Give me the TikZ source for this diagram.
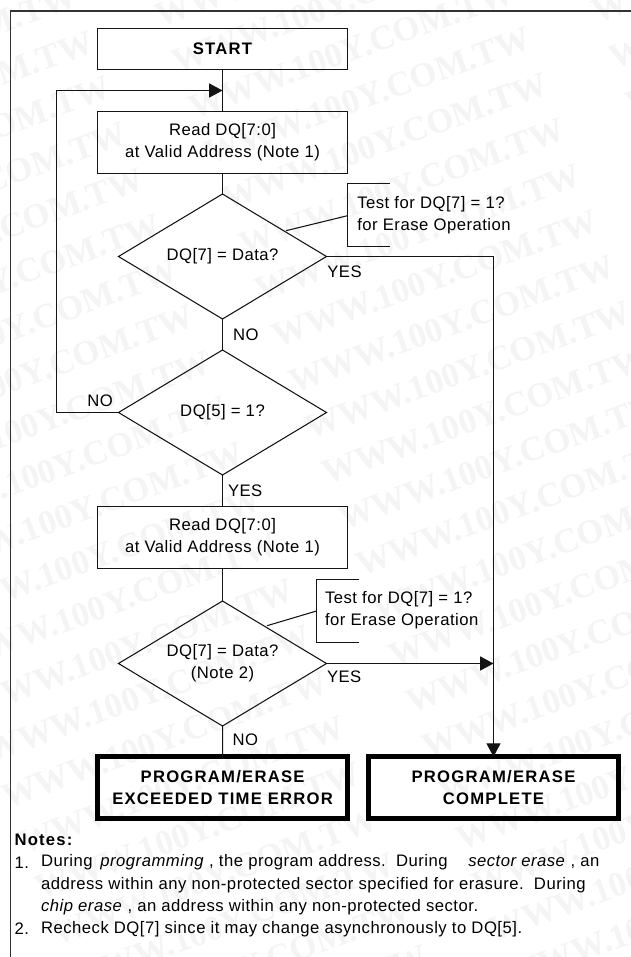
\documentclass[tikz,border=0pt]{standalone}
\usepackage{fontspec}
\setmainfont{Liberation Sans}
\newfontfamily\lbl[LetterSpace=3]{Liberation Sans}
\newfontfamily\lblb[LetterSpace=7.4]{Liberation Sans}
\newfontfamily\wmfont{Liberation Serif}
\usetikzlibrary{shapes.geometric,arrows.meta}
\definecolor{wm}{gray}{0.955}
\newcommand{\txtsize}{\fontsize{12.5pt}{16.5pt}\selectfont}
\tikzset{
  x=0.75pt,y=-0.75pt,
  ink/.style={line width=0.8pt,draw=black!92},
  boxn/.style={ink,rectangle,inner sep=0pt,outer sep=0pt,minimum width=187.5pt,align=center,font=\lbl\txtsize},
  heavy/.style={rectangle,draw=black,line width=3.4pt,inner sep=0pt,outer sep=0pt,minimum width=187.5pt,minimum height=46.5pt,align=center,font=\lblb\bfseries\txtsize},
  dia/.style={ink,diamond,inner sep=0pt,outer sep=0pt,minimum width=156pt,minimum height=93.75pt,aspect=1.65,align=center,font=\lbl\txtsize},
  lab/.style={inner sep=0pt,outer sep=0pt,font=\lbl\txtsize,anchor=west},
  callout/.style={inner sep=0pt,outer sep=0pt,anchor=west,align=left,font=\lbl\txtsize},
  note/.style={inner sep=0pt,outer sep=0pt,anchor=west,font=\lbl\txtsize},
  conn/.style={ink},
  tip/.style={conn,-{Triangle[length=10pt,width=10.5pt]}},
  wmark/.style={text=wm,inner sep=0pt,rotate=20,font=\wmfont\bfseries\fontsize{26pt}{26pt}\selectfont},
}
\begin{document}
\begin{tikzpicture}
\useasboundingbox (0,0) rectangle (631,957);
\fill[white] (0,0) rectangle (631,957);
% watermark
\begin{scope}
\clip (0,0) rectangle (631,957);
\foreach \i in {-10,...,24}{
  \foreach \j in {-3,...,3}{
    \node[wmark] (w\i n\j) at ({401.5+16.7*\i+387*\j},{187+45.7*\i-141*\j}) {WWW.100Y.COM.TW};
  }
}
\end{scope}
% frame
\coordinate (fa) at (10.5,957);
\coordinate (fb) at (10.5,11);
\coordinate (fc) at (631,11);
\draw[line width=1pt,draw=black!80] (fa) -- (fb) -- (fc);
% nodes
\node[boxn,minimum height=30.75pt,font=\lblb\bfseries\txtsize] (start) at (222.5,49) {START};
\node[boxn,minimum height=46.5pt] (read1) at (222.5,142.5) {Read DQ[7:0]\\at Valid Address (Note 1)};
\node[dia] (d1) at (222.5,256.5) {DQ[7] = Data?};
\node[dia] (d2) at (222.5,412.5) {DQ[5] = 1?};
\node[boxn,minimum height=46.5pt] (read2) at (222.5,537.5) {Read DQ[7:0]\\at Valid Address (Note 1)};
\node[dia] (d3) at (222.5,663.5) {DQ[7] = Data?\\(Note 2)};
\node[heavy] (err) at (222.6,787.7) {PROGRAM/ERASE\\EXCEEDED TIME ERROR};
\node[heavy] (ok) at (493.5,787.7) {PROGRAM/ERASE\\COMPLETE};
% callouts
\node[callout] (c1) at (357.3,215) {Test for DQ[7] = 1?\\for Erase Operation};
\node[callout] (c2) at (325,610) {Test for DQ[7] = 1?\\for Erase Operation};
\coordinate (c1a) at (389.5,183.5);
\coordinate (c1b) at (347.5,183.5);
\coordinate (c1c) at (347.5,246.5);
\coordinate (c1d) at (389.5,246.5);
\coordinate (c2a) at (358.5,579.5);
\coordinate (c2b) at (316.5,579.5);
\coordinate (c2c) at (316.5,642.5);
\coordinate (c2d) at (358.5,642.5);
\draw[conn] (c1a) -- (c1b) -- (c1c) -- (c1d);
\draw[conn] (c2a) -- (c2b) -- (c2c) -- (c2d);
\coordinate (c1p) at (347.5,215.7);
\coordinate (c1q) at (286,230.7);
\coordinate (c2p) at (316.5,611);
\coordinate (c2q) at (267,625.7);
\draw[conn] (c1p) -- (c1q);
\draw[conn] (c2p) -- (c2q);
% connectors
\coordinate (loopj) at (222.5,90.5);
\coordinate (l1) at (56.5,412.5);
\coordinate (l2) at (56.5,90.5);
\coordinate (j1) at (493.5,256.5);
\coordinate (j2) at (493.5,663.5);
\draw[conn] (start) -- (read1);
\draw[tip] (d2.west) -- (l1) -- (l2) -- (loopj);
\draw[conn] (read1) -- (d1);
\draw[conn] (d1) -- (d2);
\draw[conn] (d2) -- (read2);
\draw[conn] (read2) -- (d3);
\draw[conn] (d3) -- (err);
\draw[tip] (d1.east) -- (j1) -- (ok.north);
\draw[tip,line width=1pt] (d3.east) -- (j2);
% labels
\node[lab] (ly1) at (327.3,271.7) {YES};
\node[lab] (ln1) at (233,334.5) {NO};
\node[lab] (ln2) at (87.3,401) {NO};
\node[lab] (ly2) at (228,491) {YES};
\node[lab] (ly3) at (327,677) {YES};
\node[lab] (ln3) at (232.6,740) {NO};
% notes
\node[note,font=\lblb\bfseries\txtsize] (nh) at (14.5,839.5) {Notes:};
\node[note] (n1) at (14.5,862.5) {1.};
\node[note] (l1a) at (41,862.5) {During \hspace{2pt}\textit{programming} , the program address.\ \ During \ \ \ \textit{sector erase} , an};
\node[note] (l1b) at (41,884.7) {address within any non-protected sector specified for erasure.\ \ During};
\node[note] (l1c) at (41,906.7) {\textit{chip erase} , an address within any non-protected sector.};
\node[note] (n2) at (14.5,928.7) {2.};
\node[note] (l2a) at (41,928.7) {Recheck DQ[7] since it may change asynchronously to DQ[5].};
\end{tikzpicture}
\end{document}
